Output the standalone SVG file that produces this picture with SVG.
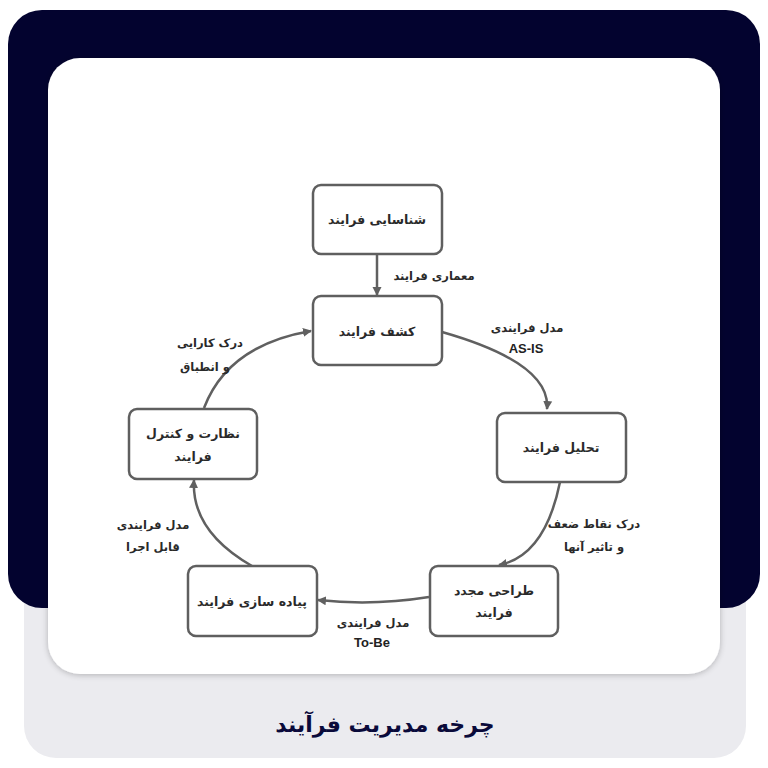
<svg xmlns="http://www.w3.org/2000/svg" width="768" height="768" viewBox="0 0 768 768">
<defs>
<style>
.node rect{fill:#fff;stroke:#5f5f5f;stroke-width:2.5}
.nt{font-family:"DejaVu Sans",sans-serif;font-size:12.5px;font-weight:bold;fill:#2a2a2a;text-anchor:middle;dominant-baseline:central}
.lb{font-family:"DejaVu Sans",sans-serif;font-size:11.5px;font-weight:bold;fill:#2a2a2a;text-anchor:middle;dominant-baseline:central}
.en{font-family:"Liberation Sans",Arial,sans-serif;font-size:13px;font-weight:bold;fill:#222;text-anchor:middle;dominant-baseline:central}
.cn{fill:none;stroke:#606060;stroke-width:2.5;marker-end:url(#ah)}
</style>
<marker id="ah" markerWidth="10" markerHeight="10" refX="8" refY="5" orient="auto" markerUnits="userSpaceOnUse">
<path d="M0,0.5 L9,5 L0,9.5 z" fill="#606060"/>
</marker>
<filter id="sh" x="-10%" y="-10%" width="120%" height="120%">
<feGaussianBlur in="SourceAlpha" stdDeviation="3"/>
<feOffset dy="1"/>
<feComponentTransfer><feFuncA type="linear" slope="0.25"/></feComponentTransfer>
<feMerge><feMergeNode/><feMergeNode in="SourceGraphic"/></feMerge>
</filter>
</defs>
<rect width="768" height="768" fill="#ffffff"/>
<rect x="24" y="400" width="722" height="358" rx="32" fill="#ebebef"/>
<rect x="8" y="10" width="752" height="598" rx="34" fill="#03032f"/>
<rect x="48" y="58" width="672" height="616" rx="32" fill="#ffffff" filter="url(#sh)"/>

<g id="connectors">
<line class="cn" x1="377" y1="254" x2="377" y2="295"/>
<path class="cn" d="M442,332 Q551,363 547,409"/>
<path class="cn" d="M560,482 Q545,556 499,565"/>
<path class="cn" d="M429,597 Q373,606 318,600"/>
<path class="cn" d="M252,566 Q191,531 194,480"/>
<path class="cn" d="M204,408 Q228,345 311,331"/>
<text class="lb" x="434" y="276">معماری فرایند</text>
<text class="lb" x="527" y="328">مدل فرایندی</text>
<text class="en" x="526" y="348">AS-IS</text>
<text class="lb" x="594" y="524">درک نقاط ضعف</text>
<text class="lb" x="594" y="547">و تاثیر آنها</text>
<text class="lb" x="373" y="623">مدل فرایندی</text>
<text class="en" x="372" y="642">To-Be</text>
<text class="lb" x="153" y="525">مدل فرایندی</text>
<text class="lb" x="153" y="547">قابل اجرا</text>
<text class="lb" x="210" y="343">درک کارایی</text>
<text class="lb" x="205" y="367">و انطباق</text>
</g>

<g id="n1" class="node"><rect x="313" y="185" width="129" height="69" rx="8"/><text class="nt" x="377" y="219">شناسایی فرایند</text></g>
<g id="n2" class="node"><rect x="313" y="296" width="129" height="69" rx="8"/><text class="nt" x="377" y="331">کشف فرایند</text></g>
<g id="n3" class="node"><rect x="497" y="413" width="129" height="69" rx="8"/><text class="nt" x="561" y="447">تحلیل فرایند</text></g>
<g id="n4" class="node"><rect x="430" y="566" width="128" height="70" rx="8"/><text class="nt" x="494" y="590">طراحی مجدد</text><text class="nt" x="494" y="612">فرایند</text></g>
<g id="n5" class="node"><rect x="188" y="566" width="129" height="70" rx="8"/><text class="nt" x="252" y="601">پیاده سازی فرایند</text></g>
<g id="n6" class="node"><rect x="129" y="409" width="128" height="70" rx="8"/><text class="nt" x="193" y="433">نظارت و کنترل</text><text class="nt" x="193" y="456">فرایند</text></g>

<text x="385" y="724" font-family="DejaVu Sans, sans-serif" font-size="22" font-weight="bold" fill="#0a0a3a" text-anchor="middle" dominant-baseline="central">چرخه مدیریت فرآیند</text>
</svg>
